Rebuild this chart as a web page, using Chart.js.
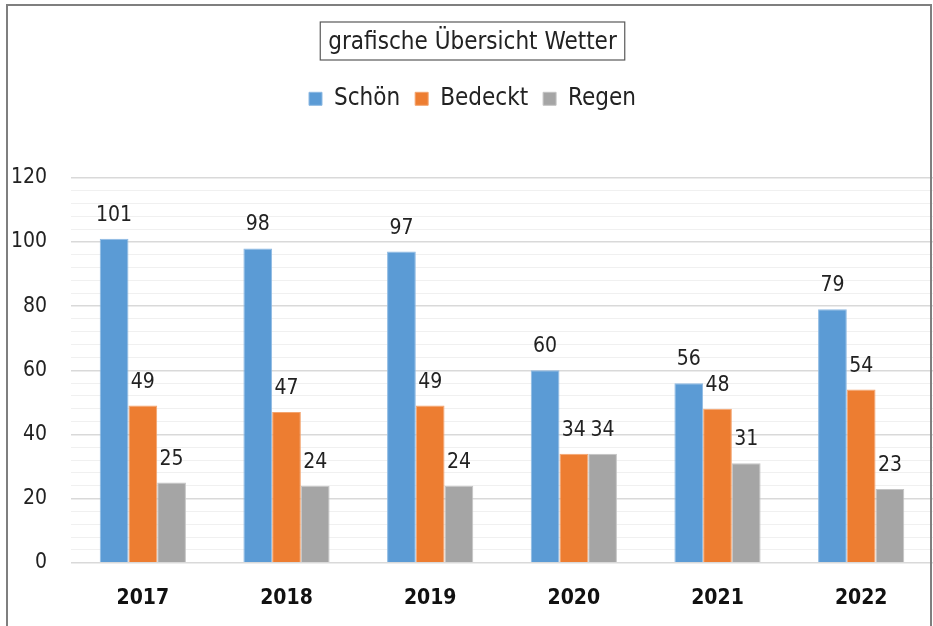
<!DOCTYPE html>
<html lang="de">
<head>
<meta charset="utf-8">
<title>grafische Übersicht Wetter</title>
<script src="https://cdn.jsdelivr.net/npm/chart.js@4.4.1/dist/chart.umd.min.js"></script>
<style>
  html, body { margin: 0; padding: 0; background: #fff; }
  #wrap { position: relative; width: 933px; height: 626px; overflow: hidden; }
  #rahmen { position: absolute; left: 6px; top: 4px; width: 922px; height: 700px; border: 2px solid #7f7f7f; pointer-events: none; }
  canvas { position: absolute; left: 0; top: 0; }
</style>
</head>
<body>
<div id="wrap">
  <canvas id="grafik" width="933" height="626"></canvas>
  <div id="rahmen"></div>
</div>
<script>
// Daten aus der Grafik
const jahre = ["2017", "2018", "2019", "2020", "2021", "2022"];
const schoen = [101, 98, 97, 60, 56, 79];
const bedeckt = [49, 47, 49, 34, 48, 54];
const regen = [25, 24, 24, 34, 31, 23];
const titel = "grafische Übersicht Wetter";
const yMax = 120;
const yHauptSchritt = 20;
const yNebenSchritt = 4;

const schrift = "'DejaVu Sans Condensed', 'DejaVu Sans', sans-serif";

// mehr Platz unter der Legende
const legendeAbstand = {
  id: "legendeAbstand",
  beforeInit(chart) {
    const fitAlt = chart.legend.fit;
    chart.legend.fit = function () {
      fitAlt.bind(chart.legend)();
      this.height += 57;
    };
  },
};

// Rahmen um den Titel
const titelRahmen = {
  id: "titelRahmen",
  afterDraw(chart) {
    const t = chart.titleBlock;
    const ctx = chart.ctx;
    ctx.save();
    ctx.font = "24px " + schrift;
    const breite = ctx.measureText(titel).width;
    const mitteX = (t.left + t.right) / 2;
    const mitteY = t.top + 28 + 13;
    ctx.strokeStyle = "#595959";
    ctx.lineWidth = 1.2;
    ctx.strokeRect(mitteX - breite / 2 - 8, mitteY - 19, breite + 16, 38);
    ctx.restore();
  },
};

// Werte über den Balken
const werteBeschriften = {
  id: "werteBeschriften",
  afterDatasetsDraw(chart) {
    const ctx = chart.ctx;
    ctx.save();
    ctx.font = "21px " + schrift;
    ctx.fillStyle = "#222";
    ctx.textAlign = "center";
    ctx.textBaseline = "alphabetic";
    chart.data.datasets.forEach((ds, i) => {
      const meta = chart.getDatasetMeta(i);
      meta.data.forEach((balken, j) => {
        ctx.fillText(ds.data[j], balken.x, balken.y - 18);
      });
    });
    ctx.restore();
  },
};

const ctx = document.getElementById("grafik").getContext("2d");
new Chart(ctx, {
  type: "bar",
  data: {
    labels: jahre,
    datasets: [
      {
        label: "Schön",
        data: schoen,
        backgroundColor: "#5B9BD5",
        borderColor: "#8db9e3",
        borderWidth: 1,
      },
      {
        label: "Bedeckt",
        data: bedeckt,
        backgroundColor: "#ED7D31",
        borderColor: "#f3a46f",
        borderWidth: 1,
      },
      {
        label: "Regen",
        data: regen,
        backgroundColor: "#A5A5A5",
        borderColor: "#c4c4c4",
        borderWidth: 1,
      },
    ],
  },
  options: {
    responsive: false,
    animation: false,
    layout: { padding: { left: 12, right: 0, top: 0, bottom: 0 } },
    datasets: {
      bar: { categoryPercentage: 0.6, barPercentage: 1.0 },
    },
    plugins: {
      title: {
        display: true,
        text: titel,
        color: "#222",
        font: { family: schrift, size: 24, weight: "normal" },
        padding: { top: 28, bottom: 15 },
      },
      legend: {
        position: "top",
        labels: {
          color: "#222",
          font: { family: schrift, size: 24 },
          boxWidth: 13,
          boxHeight: 13,
          padding: 15,
        },
      },
      tooltip: { enabled: false },
    },
    scales: {
      x: {
        grid: { display: false },
        border: { display: false },
        ticks: {
          color: "#111",
          font: { family: schrift, size: 21, weight: "bold" },
          padding: 15,
        },
      },
      y: {
        min: 0,
        max: yMax,
        border: { display: false },
        afterFit: (skala) => {
          skala.width = 59;
        },
        grid: {
          drawTicks: false,
          color: (c) => (c.tick.value % yHauptSchritt === 0 ? "#d9d9d9" : "#f0f0f0"),
          lineWidth: (c) => (c.tick.value % yHauptSchritt === 0 ? 1.5 : 1),
        },
        ticks: {
          stepSize: yNebenSchritt,
          autoSkip: false,
          color: "#222",
          font: { family: schrift, size: 21 },
          padding: 24,
          callback: (v) => (v % yHauptSchritt === 0 ? v : ""),
        },
      },
    },
  },
  plugins: [legendeAbstand, titelRahmen, werteBeschriften],
});
</script>
</body>
</html>
